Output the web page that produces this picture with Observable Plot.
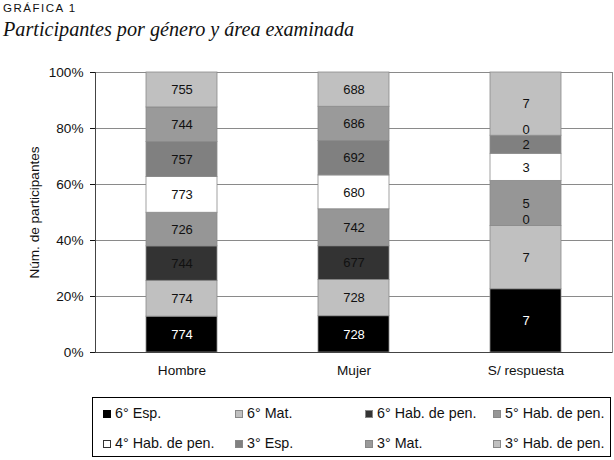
<!DOCTYPE html>
<html>
<head>
<meta charset="utf-8">
<script src="https://cdn.jsdelivr.net/npm/d3@7"></script>
<script src="https://cdn.jsdelivr.net/npm/@observablehq/plot@0.6"></script>
<style>
  html, body { margin: 0; padding: 0; background: #fff; }
  #page { position: relative; width: 614px; height: 460px; overflow: hidden; background: #fff; }
  #kicker { position: absolute; left: 3px; top: 2px; font-family: "Liberation Sans", Arial, sans-serif; font-size: 11.5px; letter-spacing: 1.5px; color: #111; }
  #title { position: absolute; left: 3px; top: 18px; font-family: "Liberation Serif", "DejaVu Serif", serif; font-style: italic; font-size: 20.2px; color: #111; white-space: nowrap; }
  #chart { position: absolute; left: 0; top: 50px; }
  #legend { position: absolute; left: 92px; top: 397px; width: 519px; height: 60px; border: 1.5px solid #000; box-sizing: border-box; font-family: "Liberation Sans", Arial, sans-serif; font-size: 14.3px; color: #111; }
  .item { position: absolute; white-space: nowrap; line-height: 15px; }
  .sw { display: inline-block; width: 8px; height: 8px; box-sizing: border-box; margin-right: 4px; vertical-align: 0px; }
</style>
</head>
<body>
<div id="page">
  <div id="kicker">GRÁFICA 1</div>
  <div id="title">Participantes por género y área examinada</div>
  <div id="chart"></div>
  <div id="legend"></div>
</div>
<script>
const categories = ["Hombre", "Mujer", "S/ respuesta"];
const series = ["6° Esp.", "6° Mat.", "6° Hab. de pen.", "5° Hab. de pen.", "4° Hab. de pen.", "3° Esp.", "3° Mat.", "3° Hab. de pen."];
const hombre = [774, 774, 744, 726, 773, 757, 744, 755];
const mujer = [728, 728, 677, 742, 680, 692, 686, 688];
const sinRespuesta = [7, 7, 0, 5, 3, 2, 0, 7];
const colors = ["#000000", "#c0c0c0", "#333333", "#969696", "#ffffff", "#808080", "#9a9a9a", "#c0c0c0"];
const yTicks = [0, 0.2, 0.4, 0.6, 0.8, 1];

const valuesByCategory = [hombre, mujer, sinRespuesta];
const data = categories.flatMap((c, i) => series.map((s, j) => ({categoria: c, serie: s, valor: valuesByCategory[i][j]})));

const labelText = (white, zero) => d =>
  ((d.serie === series[0]) === white && (d.valor === 0) === zero) ? String(d.valor) : "";

const chart = Plot.plot({
  width: 614,
  height: 340,
  marginTop: 22,
  marginBottom: 38,
  marginLeft: 95,
  marginRight: 2,
  style: {fontFamily: "'Liberation Sans', Arial, sans-serif", fontSize: "13.6px", background: "white", color: "#111", overflow: "visible"},
  x: {domain: categories, paddingInner: 0.59, paddingOuter: 0.295, label: null, tickSize: 0, tickPadding: 13},
  y: {domain: [0, 1], ticks: yTicks, tickFormat: d => Math.round(d * 100) + "%", tickSize: 5, tickPadding: 7,
      label: "Núm. de participantes", labelAnchor: "center", labelOffset: 66, labelArrow: "none"},
  color: {domain: series, range: colors},
  marks: [
    Plot.ruleY(yTicks.slice(1), {stroke: "#8a8a8a", strokeWidth: 1}),
    Plot.frame({stroke: "#8a8a8a"}),
    Plot.barY(data, {x: "categoria", y: "valor", fill: "serie", offset: "normalize", stroke: "#8a8a8a", strokeWidth: 0.8}),
    Plot.text(data, Plot.stackY({x: "categoria", y: "valor", offset: "normalize",
      text: labelText(false, false), fill: "#111", fontSize: 13})),
    Plot.text(data, Plot.stackY({x: "categoria", y: "valor", offset: "normalize",
      text: labelText(false, true), fill: "#111", fontSize: 13, dy: -6})),
    Plot.text(data, Plot.stackY({x: "categoria", y: "valor", offset: "normalize",
      text: labelText(true, false), fill: "white", fontSize: 13})),
    Plot.ruleY([0], {stroke: "#444"}),
    Plot.frame({anchor: "left", stroke: "#444"})
  ]
});
document.getElementById("chart").appendChild(chart);

// legend built from the same arrays
const legend = document.getElementById("legend");
const colX = [10, 142, 272, 400];
const rowY = [8, 38];
series.forEach((s, i) => {
  const item = document.createElement("div");
  item.className = "item";
  item.style.left = colX[i % 4] + "px";
  item.style.top = rowY[Math.floor(i / 4)] + "px";
  const sw = document.createElement("span");
  sw.className = "sw";
  sw.style.background = colors[i];
  sw.style.border = colors[i] === "#ffffff" ? "1px solid #333" : (colors[i] === "#000000" ? "none" : "1px solid #888");
  item.appendChild(sw);
  item.appendChild(document.createTextNode(s));
  legend.appendChild(item);
});
</script>
</body>
</html>
